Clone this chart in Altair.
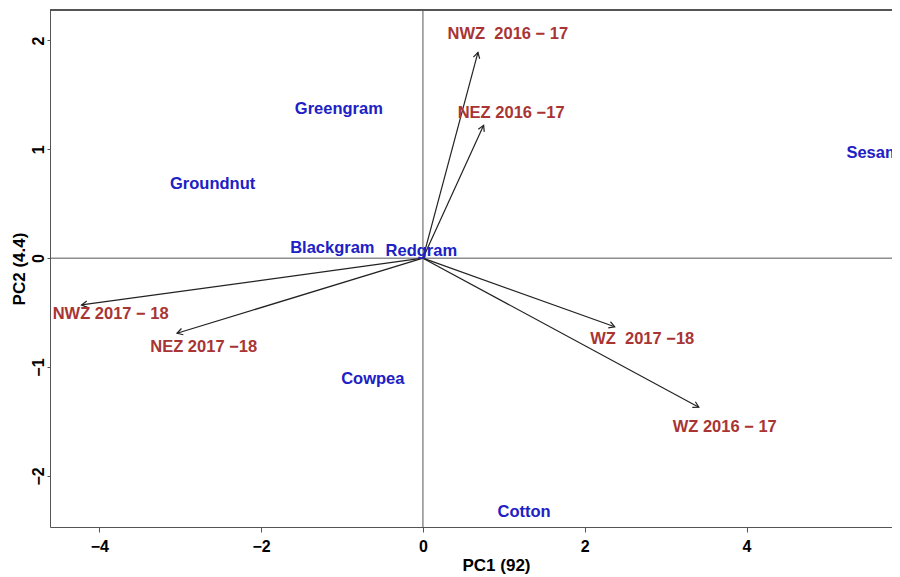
import math
import altair as alt
import pandas as pd

# ---- data ----
crops = ["Greengram", "Groundnut", "Blackgram", "Redgram", "Cowpea", "Cotton", "Sesame"]
crop_x = [-1.04, -2.60, -1.12, -0.02, -0.62, 1.25, 5.62]
crop_y = [1.37, 0.68, 0.09, 0.07, -1.11, -2.33, 0.97]

envs = ["NWZ\u00a0 2016 \u2212 17", "NEZ 2016 \u221217", "NWZ 2017 \u2212 18",
        "NEZ 2017 \u221218", "WZ\u00a0 2017 \u221218", "WZ 2016 \u2212 17"]
env_tip_x = [0.68, 0.75, -4.22, -3.04, 2.37, 3.41]
env_tip_y = [1.89, 1.22, -0.43, -0.69, -0.63, -1.37]
env_lab_x = [1.05, 1.09, -3.86, -2.71, 2.71, 3.73]
env_lab_y = [2.06, 1.33, -0.51, -0.82, -0.74, -1.55]

x_ticks = [-4, -2, 0, 2, 4]
y_ticks = [-2, -1, 0, 1, 2]

W, H = 842, 517
X_DOMAIN = [-4.61, -4.61 + W / 80.9]
Y_DOMAIN = [-2.47, 2.28]
FONT = "Liberation Sans"
BLUE = "#2020c4"
RED = "#a83434"

px_x = W / (X_DOMAIN[1] - X_DOMAIN[0])
px_y = H / (Y_DOMAIN[1] - Y_DOMAIN[0])

crop_df = pd.DataFrame({"crop": crops, "x": crop_x, "y": crop_y})
env_df = pd.DataFrame({
    "env": envs, "x0": [0.0] * len(envs), "y0": [0.0] * len(envs),
    "tx": env_tip_x, "ty": env_tip_y, "lx": env_lab_x, "ly": env_lab_y,
})
env_df["ang"] = [
    (math.degrees(math.atan2(dx * px_x, dy * px_y)) + 360) % 360
    for dx, dy in zip(env_tip_x, env_tip_y)
]

xs = alt.Scale(domain=X_DOMAIN, nice=False, zero=False)
ys = alt.Scale(domain=Y_DOMAIN, nice=False, zero=False)

x_axis = alt.Axis(values=x_ticks, format="d", title="PC1 (92)", grid=False, tickSize=5,
                  labelPadding=6, labelFontSize=16, labelFont=FONT, labelFontWeight="bold",
                  labelColor="black", domainColor="#555555", tickColor="#555555",
                  titleFont=FONT, titleFontSize=17, titleFontWeight="bold", titleColor="black",
                  titleX=446, titleY=30, titleAnchor="start", titleAlign="center",
                  labelExpr="replace(datum.label, '-', '\u2212')")
y_axis = alt.Axis(values=y_ticks, format="d", title="PC2 (4.4)", grid=False, tickSize=3,
                  labelPadding=1, labelAngle=270, labelAlign="center", labelBaseline="bottom",
                  labelFontSize=16, labelFont=FONT, labelFontWeight="bold",
                  labelColor="black", domainColor="#555555", tickColor="#555555",
                  titleFont=FONT, titleFontSize=17, titleFontWeight="bold", titleColor="black",
                  titlePadding=2,
                  labelExpr="replace(datum.label, '-', '\u2212')")

base_axes = alt.Chart(crop_df).mark_point(opacity=0).encode(
    x=alt.X("x:Q", scale=xs, axis=x_axis),
    y=alt.Y("y:Q", scale=ys, axis=y_axis),
)

top_line = alt.Chart(crop_df).mark_rule(color="#555555", strokeWidth=1).encode(
    x=alt.value(0), x2=alt.value(W), y=alt.value(0)
)

zero_v = alt.Chart(pd.DataFrame({"v": [0]})).mark_rule(color="#555555", strokeWidth=1).encode(
    x=alt.X("v:Q", scale=xs)
)
zero_h = alt.Chart(pd.DataFrame({"v": [0]})).mark_rule(color="#555555", strokeWidth=1).encode(
    y=alt.Y("v:Q", scale=ys)
)

arrows = alt.Chart(env_df).mark_rule(color="#222222", strokeWidth=1.2).encode(
    x=alt.X("x0:Q", scale=xs), y=alt.Y("y0:Q", scale=ys),
    x2="tx:Q", y2="ty:Q",
)
heads = alt.Chart(env_df).mark_point(
    shape="M -0.5 0.866 L 0 0 L 0.5 0.866", filled=False, color="#222222",
    strokeWidth=1.2, size=170, opacity=1,
).encode(
    x=alt.X("tx:Q", scale=xs), y=alt.Y("ty:Q", scale=ys),
    angle=alt.Angle("ang:Q", scale=None),
)

env_text = alt.Chart(env_df).mark_text(
    font=FONT, fontSize=16.5, fontWeight="bold", color=RED, align="center", baseline="middle"
).encode(x=alt.X("lx:Q", scale=xs), y=alt.Y("ly:Q", scale=ys), text="env:N")

crop_text = alt.Chart(crop_df).mark_text(
    font=FONT, fontSize=16.5, fontWeight="bold", color=BLUE, align="center", baseline="middle"
).encode(x=alt.X("x:Q", scale=xs), y=alt.Y("y:Q", scale=ys), text="crop:N")

chart = alt.layer(
    base_axes, top_line, zero_v, zero_h, arrows, heads, env_text, crop_text
).properties(
    width=W, height=H,
    autosize=alt.AutoSizeParams(type="none"),
    padding={"left": 42, "top": 2, "right": 0, "bottom": 48},
    background="white",
).configure_view(stroke="transparent")

chart.save("out.html", embed_options={"renderer": "svg", "actions": False})
